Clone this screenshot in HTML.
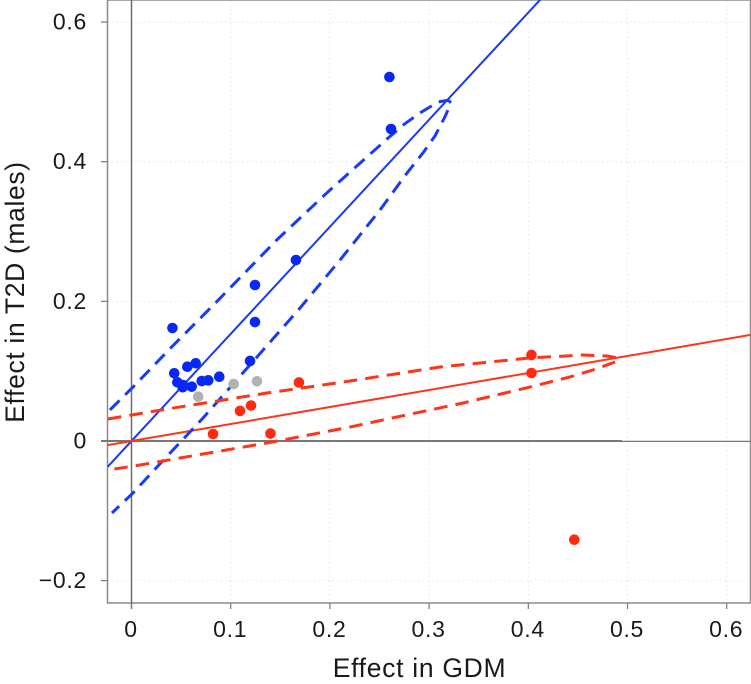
<!DOCTYPE html>
<html>
<head>
<meta charset="utf-8">
<title>Effect in GDM vs T2D</title>
<style>
html,body{margin:0;padding:0;background:#fff;}
svg{display:block;font-family:"Liberation Sans",sans-serif;}
text{fill:#1a1a1a;}
</style>
</head>
<body>
<svg id="chart" width="751" height="684" viewBox="0 0 751 684" xmlns="http://www.w3.org/2000/svg">
<defs><clipPath id="plot-clip"><rect x="107.5" y="0" width="643" height="603"></rect></clipPath></defs>
<text x="419.5" y="677" font-size="26.5" letter-spacing="0.7" text-anchor="middle">Effect in GDM</text>
<text transform="translate(24,292) rotate(-90)" font-size="26.5" letter-spacing="0.65" text-anchor="middle">Effect in T2D (males)</text>
</svg>
<script>
const xTicks = [0, 0.1, 0.2, 0.3, 0.4, 0.5, 0.6];
const yTicks = [-0.2, 0, 0.2, 0.4, 0.6];
const xTickLabels = ['0', '0.1', '0.2', '0.3', '0.4', '0.5', '0.6'];
const yTickLabels = ['\u22120.2', '0', '0.2', '0.4', '0.6'];

const blueX = [0.260, 0.2616, 0.1658, 0.1245, 0.1245, 0.0413, 0.1195, 0.0563, 0.0647, 0.0431, 0.0462, 0.0516, 0.0519, 0.0607, 0.0708, 0.0774, 0.0885];
const blueY = [0.5213, 0.4468, 0.2592, 0.2234, 0.1704, 0.1618, 0.1146, 0.1064, 0.1113, 0.097, 0.0841, 0.0769, 0.0802, 0.0778, 0.0859, 0.0869, 0.0921];
const grayX = [0.103, 0.1265, 0.0673];
const grayY = [0.0816, 0.0855, 0.0634];
const redX = [0.0822, 0.1401, 0.1094, 0.1205, 0.1688, 0.4032, 0.4032, 0.4464];
const redY = [0.01, 0.0107, 0.043, 0.0508, 0.0838, 0.1232, 0.0974, -0.1414];

const blueSlope = 1.534;
const redSlope = 0.2435;

const blueBandX = [-0.0217, 0.0015, 0.0408, 0.0859, 0.1464, 0.2001, 0.2573, 0.274, 0.2908, 0.3093, 0.3194, 0.3221, 0.3204, 0.316, 0.3059, 0.2938, 0.2777, 0.2505, 0.2102, 0.1699, 0.1265, 0.0721, 0.0257, 0.0015, -0.0197];
const blueBandY = [0.0444, 0.0773, 0.1351, 0.1995, 0.2879, 0.3595, 0.4321, 0.4526, 0.4699, 0.4856, 0.488, 0.4841, 0.4788, 0.4644, 0.4368, 0.4125, 0.3838, 0.3308, 0.2592, 0.1905, 0.1203, 0.0329, -0.0372, -0.0745, -0.1031];
const redBandX = [-0.0237, 0.0358, 0.1366, 0.2203, 0.311, 0.4017, 0.4551, 0.4793, 0.4904, 0.4904, 0.4652, 0.442, 0.4017, 0.3342, 0.2676, 0.2203, 0.1366, 0.0721, 0.0086, -0.0237];
const redBandY = [0.0315, 0.0458, 0.0687, 0.0859, 0.106, 0.1189, 0.1232, 0.1217, 0.1189, 0.1146, 0.1017, 0.0917, 0.0773, 0.0544, 0.0344, 0.02, -0.0029, -0.0186, -0.0344, -0.0415];

const sx = v => 131.5 + v * 992;
const sy = v => 441 - v * 698.25;
const xMin = (107.5 - 131.5) / 992;
const xMax = (750.5 - 131.5) / 992;

const NS = 'http://www.w3.org/2000/svg';
const svg = document.getElementById('chart');
function mk(tag, attrs, parent) {
  const el = document.createElementNS(NS, tag);
  for (const k in attrs) el.setAttribute(k, attrs[k]);
  (parent || svg).appendChild(el);
  return el;
}

const grid = mk('g', {});


xTicks.forEach(t => {
  const l = mk('line', {x1: sx(t), x2: sx(t), y1: 0, y2: 603, stroke: '#e6e6e6', 'stroke-width': 1, 'stroke-dasharray': '1.5 3'}, grid);
  
  
});
yTicks.forEach(t => {
  const l = mk('line', {x1: 107.5, x2: 750.5, y1: sy(t), y2: sy(t), stroke: '#e6e6e6', 'stroke-width': 1, 'stroke-dasharray': '1.5 3'}, grid);
  
  
});

const frame = mk('path', {d: 'M107.5 0V603H750.5V0H107.5', fill: 'none', stroke: '#8c8c8c', 'stroke-width': 1.5});



const zeroV = mk('line', {x1: sx(0), x2: sx(0), y1: 0, y2: 609, stroke: '#666', 'stroke-width': 1.4});


const zeroH = mk('line', {x1: 101, x2: 622, y1: sy(0), y2: sy(0), stroke: '#777', 'stroke-width': 2});


const zeroHThin = mk('line', {x1: 622, x2: 750.5, y1: sy(0) + 0.4, y2: sy(0) + 0.4, stroke: '#777', 'stroke-width': 1.2});



xTicks.forEach((t, i) => {
  const tk = mk('line', {x1: sx(t), x2: sx(t), y1: 603, y2: 609, stroke: '#777', 'stroke-width': 1.2});
  
  
  const lb = mk('text', {x: sx(t) - 0.5, y: 637, 'font-size': 23, 'letter-spacing': 0.7, 'text-anchor': 'middle'});
  lb.textContent = xTickLabels[i];
  
  
});
yTicks.forEach((t, i) => {
  const tk = mk('line', {x1: 101, x2: 107.5, y1: sy(t), y2: sy(t), stroke: '#777', 'stroke-width': 1.2});
  
  
  const lb = mk('text', {x: 87, y: sy(t) + 7.5, 'font-size': 23, 'letter-spacing': 0.7, 'text-anchor': 'end'});
  lb.textContent = yTickLabels[i];
  
  
});

const marks = mk('g', {'clip-path': 'url(#plot-clip)'});



const BLUE = '#1a3cf0';
const RED = '#ff3418';

const blueFit = mk('line', {x1: sx(xMin), y1: sy(xMin * blueSlope), x2: sx(xMax), y2: sy(xMax * blueSlope), stroke: BLUE, 'stroke-width': 2}, marks);


const redFit = mk('line', {x1: sx(xMin), y1: sy(xMin * redSlope), x2: sx(xMax), y2: sy(xMax * redSlope), stroke: RED, 'stroke-width': 2}, marks);



const bluePts = blueBandX.map((v, i) => sx(v) + ',' + sy(blueBandY[i])).join(' ');
const blueBand = mk('polyline', {points: bluePts, fill: 'none', stroke: BLUE, 'stroke-width': 3, 'stroke-dasharray': '13.5 8', 'stroke-linejoin': 'round'}, marks);


const redPts = redBandX.map((v, i) => sx(v) + ',' + sy(redBandY[i])).join(' ');
const redBand = mk('polyline', {points: redPts, fill: 'none', stroke: RED, 'stroke-width': 3, 'stroke-dasharray': '13.5 8.2', 'stroke-linejoin': 'round'}, marks);



grayX.forEach((v, i) => {
  const c = mk('circle', {cx: sx(v), cy: sy(grayY[i]), r: 5.3, fill: '#b2b2b2'}, marks);
  
  
});
blueX.forEach((v, i) => {
  const c = mk('circle', {cx: sx(v), cy: sy(blueY[i]), r: 5.3, fill: '#0a28f5'}, marks);
  
  
});
redX.forEach((v, i) => {
  const c = mk('circle', {cx: sx(v), cy: sy(redY[i]), r: 5.3, fill: '#ff2a10'}, marks);
  
  
});
</script>
</body>
</html>
